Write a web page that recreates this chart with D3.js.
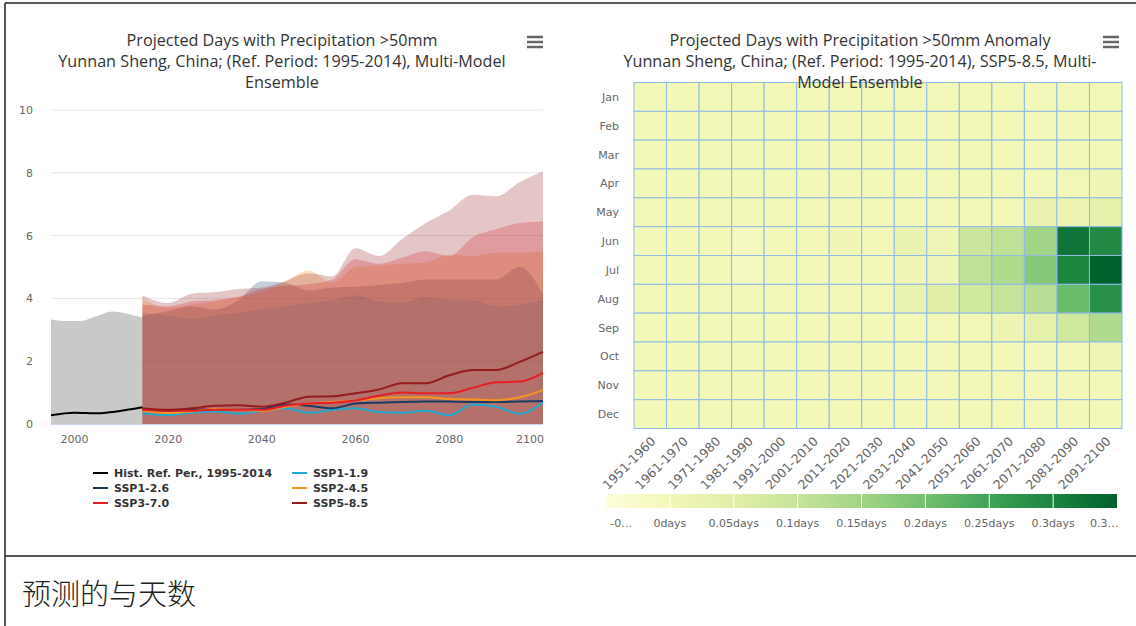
<!DOCTYPE html>
<html><head><meta charset="utf-8">
<script src="https://cdn.jsdelivr.net/npm/d3@7"></script>
<style>body{margin:0;background:#fff;} svg{display:block}</style>
</head><body><svg id="c" width="1136" height="626"></svg>
<script>
// ---------- Data: left chart ----------
const histYears = [1995, 1998, 2001, 2005, 2008, 2011, 2014.5];
const histHigh  = [3.33, 3.28, 3.28, 3.45, 3.58, 3.52, 3.38];
const histLineYears = [1995, 2000, 2005, 2009, 2014.5];
const histMedian = [0.28, 0.36, 0.34, 0.40, 0.53];

const futYears = [2014.5,2020,2025,2030,2035,2040,2045,2050,2055,2060,2065,2070,2075,2080,2085,2090,2095,2100];
const ssp119High = [3.55,3.45,3.35,3.45,3.55,3.65,3.75,3.85,3.95,4.10,3.90,3.85,4.05,3.95,3.95,3.75,3.80,3.95];
const ssp126High = [3.45,3.60,3.75,3.65,3.95,4.55,4.50,4.25,4.35,4.37,4.43,4.50,4.60,4.60,4.60,4.60,5.00,4.15];
const ssp245High = [4.00,3.70,3.80,3.90,4.05,4.20,4.55,4.90,4.50,5.00,5.05,5.10,5.15,5.40,5.35,5.45,5.45,5.50];
const ssp370High = [3.80,3.75,3.90,3.95,4.05,4.30,4.40,4.45,4.60,5.25,5.10,5.30,5.50,5.35,5.95,6.20,6.40,6.45];
const ssp585High = [4.10,3.85,4.15,4.20,4.30,4.35,4.55,4.80,4.70,5.60,5.35,5.90,6.40,6.80,7.30,7.25,7.70,8.05];
const futLow = [0,0,0,0,0,0,0,0,0,0,0,0,0,0,0,0,0,0];

const ssp119Med = [0.34,0.28,0.36,0.40,0.33,0.42,0.50,0.36,0.45,0.50,0.38,0.36,0.42,0.28,0.62,0.55,0.33,0.70];
const ssp126Med = [0.45,0.42,0.45,0.48,0.45,0.48,0.62,0.58,0.50,0.65,0.68,0.70,0.72,0.72,0.70,0.70,0.72,0.73];
const ssp245Med = [0.42,0.35,0.40,0.48,0.45,0.42,0.55,0.65,0.70,0.75,0.82,0.85,0.85,0.80,0.78,0.76,0.85,1.08];
const ssp370Med = [0.45,0.42,0.42,0.45,0.45,0.45,0.58,0.65,0.68,0.75,0.90,1.00,0.98,0.98,1.15,1.33,1.35,1.63];
const ssp585Med = [0.50,0.45,0.50,0.58,0.60,0.55,0.68,0.87,0.88,0.98,1.10,1.30,1.30,1.55,1.72,1.72,1.98,2.30];

const seriesNames = ["Hist. Ref. Per., 1995-2014","SSP1-1.9","SSP1-2.6","SSP2-4.5","SSP3-7.0","SSP5-8.5"];
const seriesColors = ["#000000","#1fa9d1","#173c66","#f79420","#e71d25","#951b1e"];
const yTicks = [0,2,4,6,8,10];
const xTicks = [2000,2020,2040,2060,2080,2100];

// ---------- Data: heatmap ----------
const months = ["Jan","Feb","Mar","Apr","May","Jun","Jul","Aug","Sep","Oct","Nov","Dec"];
const decades = ["1951-1960","1961-1970","1971-1980","1981-1990","1991-2000","2001-2010","2011-2020","2021-2030","2031-2040","2041-2050","2051-2060","2061-2070","2071-2080","2081-2090","2091-2100"];
const anomaly = [
  [0,0,0,0,0,0,0,0,0,0,0,0,0,0,0],
  [0,0,0,0,0,0,0,0,0,0,0,0,0,0,0],
  [0,0,0,0,0,0,0,0,0,0,0,0,0,0,0],
  [0,0,0,0,0,0,0,0,0,0,0,0,0,0.003,0.005],
  [0,0,0,0,0,0,0,0,0,0,0,0,0.02,0.018,0.04],
  [0,0,0,-0.01,0,0,0.005,0,0.022,0.01,0.09,0.11,0.15,0.32,0.29],
  [0,0,0,-0.012,0,0,0,0,0.005,0.012,0.11,0.13,0.18,0.30,0.35],
  [0,0,0,0,0,0,0,0,0.022,0.05,0.08,0.10,0.12,0.21,0.28],
  [0,0,0,0,0,0,0,0,0,0,0.003,0.015,0.04,0.08,0.13],
  [0,0,0,0,0,0,0,0,0,0,0,0,0,0.003,0.01],
  [0,0,0,0,0,0,0,0,0,0,0,0,0,0,0],
  [0,0,0,0,0,0,0,0,0,0,0,0,0,0,0]
];
const colorStops = [-0.05,0,0.05,0.1,0.15,0.2,0.25,0.3,0.35];
const colorValues = ["#fdfedb","#f3f7b7","#e1eea8","#c6e499","#a2d485","#73c06e","#3fa357","#1b843f","#00612d"];
const legendTicks = [0,0.05,0.1,0.15,0.2,0.25,0.3];
const legendLabels = ["-0…","0days","0.05days","0.1days","0.15days","0.2days","0.25days","0.3days","0.3…"];
const legendLabelVals = [-0.038,0,0.05,0.1,0.15,0.2,0.25,0.3,0.34];

// ---------- Drawing ----------
const svg = d3.select("#c");
const axisFont = "DejaVu Sans, sans-serif";
const titleFont = "'Open Sans', sans-serif";

// frame
svg.append("line").attr("x1",5).attr("x2",1136).attr("y1",3).attr("y2",3).attr("stroke","#222").attr("stroke-width",1.5);
svg.append("line").attr("x1",5).attr("x2",5).attr("y1",3).attr("y2",626).attr("stroke","#222").attr("stroke-width",1.5);
svg.append("line").attr("x1",5).attr("x2",1136).attr("y1",556).attr("y2",556).attr("stroke","#222").attr("stroke-width",1.5);
svg.append("text").attr("x",22).attr("y",605).attr("font-family","'Noto Sans CJK SC', sans-serif")
  .attr("font-size",29).attr("font-weight",300).attr("fill","#222").text("预测的与天数");

// ---- left chart ----
const xL = d3.scaleLinear().domain([1995,2100]).range([51,543]);
const yL = d3.scaleLinear().domain([0,10]).range([424,110]);
const gL = svg.append("g");

gL.selectAll("line.grid").data(yTicks.filter(d=>d>0)).join("line")
  .attr("x1",51).attr("x2",543).attr("y1",d=>yL(d)).attr("y2",d=>yL(d))
  .attr("stroke","#e6e6e6").attr("stroke-width",1);
gL.selectAll("text.yl").data(yTicks).join("text")
  .attr("x",33).attr("y",d=>yL(d)+4).attr("text-anchor","end")
  .attr("font-family",axisFont).attr("font-size",11).attr("fill","#666").text(d=>d);
gL.selectAll("text.xl").data(xTicks).join("text")
  .attr("x",d=>d===2100?xL(d)-13:xL(d)).attr("y",443).attr("text-anchor","middle")
  .attr("font-family",axisFont).attr("font-size",11).attr("fill","#666").text(d=>d);

// hist area
const histArea = d3.area().x(d=>xL(d[0])).y0(yL(0)).y1(d=>yL(d[1])).curve(d3.curveMonotoneX);
gL.append("path").datum(histYears.map((y,i)=>[y,histHigh[i]])).attr("d",histArea)
  .attr("fill","#c6c6c6").attr("fill-opacity",0.95);

const bandHighs = [ssp119High,ssp126High,ssp245High,ssp370High,ssp585High];
const meds = [ssp119Med,ssp126Med,ssp245Med,ssp370Med,ssp585Med];
const band = d3.area().x(d=>xL(d[0])).y0(d=>yL(d[1])).y1(d=>yL(d[2])).curve(d3.curveMonotoneX);
bandHighs.forEach((hi,k)=>{
  gL.append("path").datum(futYears.map((y,i)=>[y,futLow[i],hi[i]])).attr("d",band)
    .attr("fill",seriesColors[k+1]).attr("fill-opacity",0.25);
});
gL.append("line").attr("x1",51).attr("x2",543).attr("y1",yL(0)+0.5).attr("y2",yL(0)+0.5).attr("stroke","#ccd6eb");

const line = d3.line().x(d=>xL(d[0])).y(d=>yL(d[1])).curve(d3.curveMonotoneX);
gL.append("path").datum(histLineYears.map((y,i)=>[y,histMedian[i]])).attr("d",line)
  .attr("fill","none").attr("stroke","#000").attr("stroke-width",2);
meds.forEach((m,k)=>{
  gL.append("path").datum(futYears.map((y,i)=>[y,m[i]])).attr("d",line)
    .attr("fill","none").attr("stroke",seriesColors[k+1]).attr("stroke-width",2);
});

// legend
const legPos = [[93,473],[292,473],[93,488],[292,488],[93,503],[292,503]];
const legOrder = [0,1,2,3,4,5];
legOrder.forEach((s,i)=>{
  const [lx,ly] = legPos[i];
  gL.append("line").attr("x1",lx).attr("x2",lx+15).attr("y1",ly).attr("y2",ly).attr("stroke",seriesColors[s]).attr("stroke-width",2);
  gL.append("text").attr("x",lx+21).attr("y",ly+4).attr("font-family",axisFont).attr("font-size",11)
    .attr("font-weight","bold").attr("fill","#333").text(seriesNames[s]);
});

// title left
["Projected Days with Precipitation >50mm","Yunnan Sheng, China; (Ref. Period: 1995-2014), Multi-Model","Ensemble"].forEach((t,i)=>{
  svg.append("text").attr("x",282).attr("y",46+21*i).attr("text-anchor","middle")
    .attr("font-family",titleFont).attr("font-size",16.2).attr("fill","#333").text(t);
});

function burger(x){
  [37,42,47].forEach(y=>svg.append("line").attr("x1",x).attr("x2",x+16).attr("y1",y).attr("y2",y)
    .attr("stroke","#666").attr("stroke-width",2.5));
}
burger(527); burger(1103);

// ---- heatmap ----
const xH = d3.scaleBand().domain(decades).range([634,1122]);
const yH = d3.scaleBand().domain(months).range([82.5,428.5]);
const color = d3.scaleLinear().domain(colorStops).range(colorValues).clamp(true);
const gH = svg.append("g");
const cells = [];
months.forEach((m,r)=>decades.forEach((d,c)=>cells.push({m,d,v:anomaly[r][c]})));
gH.selectAll("rect.cell").data(cells).join("rect")
  .attr("x",d=>xH(d.d)).attr("y",d=>yH(d.m)).attr("width",xH.bandwidth()).attr("height",yH.bandwidth())
  .attr("fill",d=>color(d.v)).attr("stroke","#8fbbe6").attr("stroke-width",1);
gH.selectAll("text.ml").data(months).join("text")
  .attr("x",619).attr("y",d=>yH(d)+yH.bandwidth()/2+4).attr("text-anchor","end")
  .attr("font-family",axisFont).attr("font-size",11).attr("fill","#666").text(d=>d);
gH.selectAll("text.dl").data(decades).join("text")
  .attr("transform",d=>`translate(${xH(d)+xH.bandwidth()/2+6},442) rotate(-45)`)
  .attr("text-anchor","end").attr("font-family",axisFont).attr("font-size",12.5).attr("fill","#666").text(d=>d);

// color legend
const xC = d3.scaleLinear().domain([-0.05,0.35]).range([606,1117]);
const defs = svg.append("defs");
const grad = defs.append("linearGradient").attr("id","cg").attr("x1","0%").attr("x2","100%");
colorStops.forEach((s,i)=>grad.append("stop").attr("offset",((s+0.05)/0.4*100)+"%").attr("stop-color",colorValues[i]));
gH.append("rect").attr("x",606).attr("y",494).attr("width",511).attr("height",14).attr("fill","url(#cg)");
gH.selectAll("line.ct").data(legendTicks).join("line")
  .attr("x1",d=>xC(d)).attr("x2",d=>xC(d)).attr("y1",494).attr("y2",508).attr("stroke","#fff").attr("stroke-width",1);
gH.selectAll("text.cl").data(legendLabels).join("text")
  .attr("x",(d,i)=>xC(legendLabelVals[i])).attr("y",527).attr("text-anchor","middle")
  .attr("font-family",axisFont).attr("font-size",11).attr("fill","#666").text(d=>d);

// title right
["Projected Days with Precipitation >50mm Anomaly","Yunnan Sheng, China; (Ref. Period: 1995-2014), SSP5-8.5, Multi-","Model Ensemble"].forEach((t,i)=>{
  svg.append("text").attr("x",860).attr("y",46+21*i).attr("text-anchor","middle")
    .attr("font-family",titleFont).attr("font-size",16.2).attr("fill","#333").text(t);
});
</script></body></html>
